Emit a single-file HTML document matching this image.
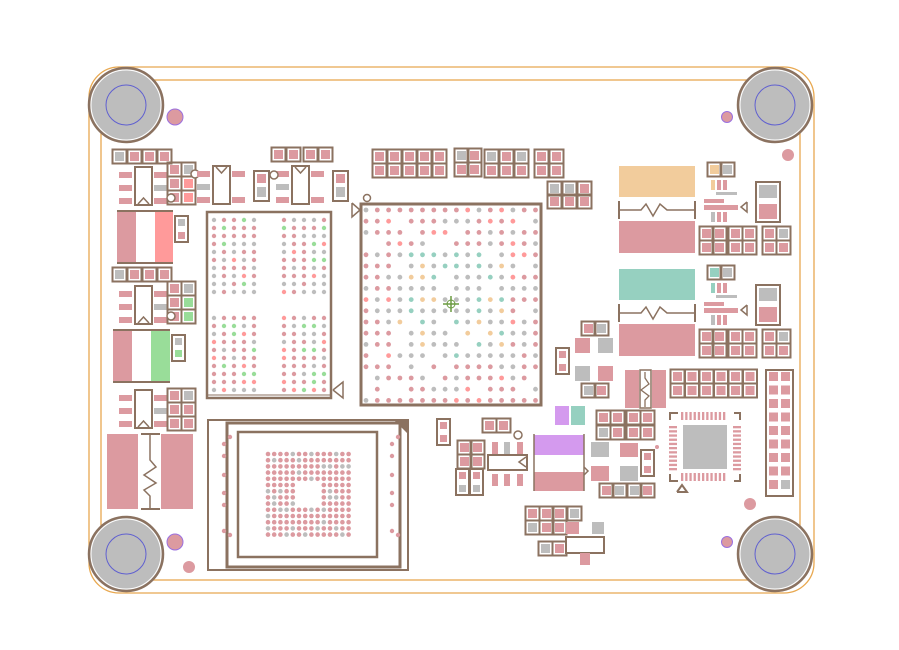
<!DOCTYPE html>
<html><head><meta charset="utf-8"><style>
html,body{margin:0;padding:0;background:#fff;width:899px;height:650px;overflow:hidden}
svg{display:block}
</style></head><body>
<svg id="s" width="899" height="650" viewBox="0 0 899 650" xmlns="http://www.w3.org/2000/svg">
<rect width="899" height="650" fill="#fff"/>
<rect x="89" y="67" width="725" height="526" rx="30" fill="none" stroke="#e8a850" stroke-width="1.3"/>
<rect x="101" y="80" width="699" height="500" fill="none" stroke="#e8a850" stroke-width="1.3"/>
<g id="g"></g>
</svg>
<script>
const B='#8b7260',P='#dc9aa0',G='#bdbdbd',S='#ff9a9a',GR='#99dd99',PU='#d49aee',T='#96d0c0',O='#f2cc9c';
let h='';
const r=(x,y,w,hh,f,st,sw)=>h+=`<rect x="${x}" y="${y}" width="${w}" height="${hh}" fill="${f||'none'}" ${st?`stroke="${st}" stroke-width="${sw||2}"`:''}/>`;
const c=(x,y,rr,f,st,sw)=>h+=`<circle cx="${x}" cy="${y}" r="${rr}" fill="${f||'none'}" ${st?`stroke="${st}" stroke-width="${sw||1}"`:''}/>`;
const l=(p,st,sw)=>h+=`<polyline points="${p}" fill="none" stroke="${st||B}" stroke-width="${sw||2}"/>`;
function pad(x,y,f){r(x-0.5,y-0.5,14,14,'none',B,2);r(x+2,y+2,9,9,f||P);}
function padrow(x,y,n,fs){for(let i=0;i<n;i++)pad(x+i*15,y,fs&&fs[i]);}
[[126,105],[775,105],[126,554],[775,554]].forEach(([x,y])=>{c(x,y,37,G,B,2.5);c(x,y,35,'none','#fff',1);c(x,y,20,'none','#6060d0',1);});
c(175,117,8,P,'#9a70e0',1);c(727,117,5.5,P,'#9a70e0',1);c(175,542,8,P,'#9a70e0',1);c(727,542,5.5,P,'#9a70e0',1);
c(788,155,6,P);c(189,567,6,P);c(750,504,6,P);
function sot(x,y){[0,13,26].forEach(d=>{r(x-16,y+5+d,13,6,P);r(x+19,y+5+d,13,6,d==13?G:P);});r(x,y,17,38,'#fff',B,2);l(`${x+3},${y+37} ${x+8.5},${y+31} ${x+14},${y+37}`,B,1.5);}
sot(135,167);sot(135,286);sot(135,390);
padrow(113,150,4,[G,P,P,P]);padrow(113,268,4,[G,P,P,P]);
[[168,163,[P,G]],[168,177,[P,S]],[168,191,[P,S]]].forEach(([x,y,f])=>{pad(x,y,f[0]);pad(x+14,y,f[1]);});
[[168,282,[P,G]],[168,296,[P,GR]],[168,310,[P,GR]]].forEach(([x,y,f])=>{pad(x,y,f[0]);pad(x+14,y,f[1]);});
[[168,389,[P,G]],[168,403,[P,P]],[168,417,[P,P]]].forEach(([x,y,f])=>{pad(x,y,f[0]);pad(x+14,y,f[1]);});
c(195,174,4,'#fff',B,1.5);c(171,198,4,'#fff',B,1.5);c(171,316,4,'#fff',B,1.5);
r(117,212,19,51,P);r(155,212,18,51,S);l('117,211 173,211');l('117,263 173,263');
r(113,331,19,51,P);r(151,331,19,51,GR);l('113,330 170,330');l('113,382 170,382');
r(175,216,13,26,'#fff',B,2);r(178,219,7,7,G);r(178,232,7,7,P);
r(172,335,13,26,'#fff',B,2);r(175,338,7,7,G);r(175,350,7,7,GR);
r(107,434,31,75,P);r(161,434,32,75,P);l('141,434 160,434');l('141,509 160,509');l('150,434 150,460 156,467 144,475 156,483 144,490 150,496 150,509',B,1.5);
function sot2(x,y){[0,26].forEach(d=>{r(x-16,y+5+d,13,6,P);r(x+19,y+5+d,13,6,P);});r(x-16,y+18,13,6,G);r(x,y,17,38,'#fff',B,2);l(`${x+3},${y+1} ${x+8.5},${y+7} ${x+14},${y+1}`,B,1.5);}
sot2(213,166);sot2(292,166);
r(254,171,15,30,'#fff',B,2);r(257,174,9,9,P);r(257,187,9,10,G);c(274,175,4,'#fff',B,1.5);
r(333,171,15,30,'#fff',B,2);r(336,174,9,9,P);r(336,187,9,10,G);
padrow(272,148,2);padrow(304,148,2);
r(207,212,124,186,'#fff',B,2.5);l('207,395 331,395',B,1);l('333,390 343,382 343,398 333,390',B,1.5);
let k=7;const rnd=()=>{k=(k*9301+49297)%233280;return k/233280;};
const pc=()=>{const v=rnd();return v<0.45?P:v<0.75?G:v<0.88?S:GR;};
for(let g of[214,284])for(let i=0;i<5;i++)for(let j=0;j<10;j++){c(g+i*10,220+j*8,2.2,pc());c(g+i*10,318+j*8,2.2,pc());}
r(361,204,180,201,'#fff',B,3);l('352,203 360,210 352,217 352,203',B,1.5);c(367,198,3.5,'#fff',B,1.5);
for(let i=0;i<16;i++)for(let j=0;j<18;j++){const x=366+i*11.3,y=210+j*11.2;const ci=Math.abs(i-7.5),cj=Math.abs(j-8.5);
 if(rnd()<0.1)continue;let f=(ci<5&&cj<5)?(rnd()<0.6?G:rnd()<0.5?O:T):pc();if(f==GR)f=P;c(x,y,2.4,f);}
l('443,304 459,304','#6a9a40',1.5);l('451,296 451,312','#6a9a40',1.5);c(451,304,4,'none','#6a9a40',1);
for(let i=0;i<5;i++){pad(373+i*15,150);pad(373+i*15,164);}
pad(455,149,G);pad(468,149);pad(455,163);pad(468,163);
for(let i=0;i<3;i++){pad(485+i*15,150,i==0||i==2?G:P);pad(485+i*15,164);}
pad(535,150);pad(550,150);pad(535,164);pad(550,164);
padrow(548,182,3,[G,G,P]);padrow(548,195,3);
r(208,420,200,150,'#fff',B,2);r(227,423,173,144,'#fff',B,3);r(238,432,139,125,'#fff',B,2.5);
h+=`<polygon points="395,421 408,421 408,434" fill="${B}"/>`;
for(let i=0;i<14;i++)for(let j=0;j<14;j++){if((i==4||i==9||j==4||j==9)&&i>=4&&i<=9&&j>=4&&j<=9){}else if(i>3&&i<10&&j>3&&j<10)continue;
 c(268+i*6.2,454+j*6.2,2.3,rnd()<0.15?G:P);}
[[224,444],[230,437],[224,456],[224,475],[224,493],[224,505],[230,535],[224,531]].forEach(([x,y])=>{c(x,y,2.2,P);c(x+168,y,2.2,P);});
r(437,419,13,26,'#fff',B,2);r(440,422,7,7,P);r(440,435,7,7,P);
pad(483,419);pad(497,419);c(518,435,4,'#fff',B,1.5);
r(492,442,6,12,P);r(504,442,6,12,G);r(517,442,6,12,P);r(492,474,6,12,P);r(504,474,6,12,P);r(517,474,6,12,P);
r(488,455,39,15,'#fff',B,2);l('526,457 519,462 526,467',B,1.5);
for(let j=0;j<2;j++){pad(458,441+j*14);pad(471,441+j*14);}
r(456,469,13,26,'none',B,2);r(459,472,7,7,P);r(459,485,7,7,G);r(470,469,13,26,'none',B,2);r(473,472,7,7,P);r(473,485,7,7,G);
r(534,435,50,20,PU);r(534,472,50,19,P);l('534,434 534,491',B,1.5);l('584,434 584,491',B,1.5);l('584,467 588,471 584,475',B,1.5);
r(555,406,14,19,PU);r(571,406,14,19,T);
pad(526,507);pad(540,507);pad(553,507);pad(568,507,G);pad(526,521,G);pad(540,521);pad(553,521);
r(566,522,13,12,P);r(592,522,12,12,G);pad(539,542,G);pad(553,542);r(566,537,38,16,'#fff',B,2);r(580,553,10,12,P);
r(556,348,13,26,'#fff',B,2);r(559,351,7,7,P);r(559,364,7,7,P);
pad(582,322);pad(595,322,G);r(575,338,15,15,P);r(598,338,15,15,G);r(575,366,15,15,G);r(598,366,15,15,P);pad(582,384,G);pad(595,384);
pad(597,411);pad(611,411);pad(627,411);pad(641,411);pad(597,426,G);pad(611,426);pad(627,426);pad(641,426);
r(591,442,18,15,G);r(620,443,18,14,P);r(591,466,18,15,P);r(620,466,18,15,G);r(641,450,13,26,'#fff',B,2);r(644,453,7,7,P);r(644,466,7,7,P);c(657,447,2,P);
pad(600,484);pad(613,484,G);pad(628,484,G);pad(641,484);
r(625,370,14,38,P);r(652,370,14,38,P);r(640,370,11,38,'#fff',B,1.5);l('645,372 645,378 649,384 641,390 649,396 645,400 645,407',B,1.3);
for(let i=0;i<6;i++){pad(671+i*14.5,370);pad(671+i*14.5,384);}
r(683,425,44,44,G);
for(let i=0;i<11;i++){r(681+i*4.2,412,2.3,8,P);r(681+i*4.2,473,2.3,8,P);r(669,426+i*4.2,8,2.3,P);r(733,426+i*4.2,8,2.3,P);}
l('670,420 670,413 678,413',B,2);l('734,413 740,413 740,420',B,2);l('740,474 740,481 734,481',B,2);l('670,474 670,481 678,481',B,2);
l('677,492 682,485 687,492 677,492',B,2);
r(766,370,27,126,'none',B,2);for(let j=0;j<9;j++){r(769,372+j*13.5,9,9,P);r(781,372+j*13.5,9,9,j==8?G:P);}
function reg(y,fc){r(619,y,76,31,fc);l(`619,${y+35} 619,${y+53}`);l(`695,${y+35} 695,${y+53}`);l(`619,${y+44} 641,${y+44} 646,${y+38} 653,${y+50} 660,${y+38} 667,${y+44} 695,${y+44}`,B,1.5);r(619,y+55,76,32,P);
 pad(708,y-3,fc==O?O:T);pad(721,y-3,G);r(711,y+14,4,10,fc==O?O:T);r(717,y+14,4,10,P);r(723,y+14,4,10,P);r(716,y+26,21,3,G);
 r(704,y+33,20,4,P);r(704,y+39,34,5,P);l(`747,${y+36} 741,${y+41} 747,${y+46} 747,${y+36}`,B,1.5);r(711,y+46,4,10,G);r(717,y+46,4,10,P);r(723,y+46,4,10,P);
 r(756,y+16,24,40,'#fff',B,2);r(759,y+19,18,13,G);r(759,y+38,18,15,P);
 const row=(yy,f)=>{pad(700,yy,f[0]);pad(713,yy,f[1]);pad(729,yy);pad(743,yy);pad(763,yy,f[2]);pad(777,yy,f[3]);};
 row(y+61,[P,P,P,G]);row(y+75,[P,P,P,P]);}
reg(166,O);reg(269,T);
document.getElementById('g').innerHTML=h;
</script>
</body></html>
